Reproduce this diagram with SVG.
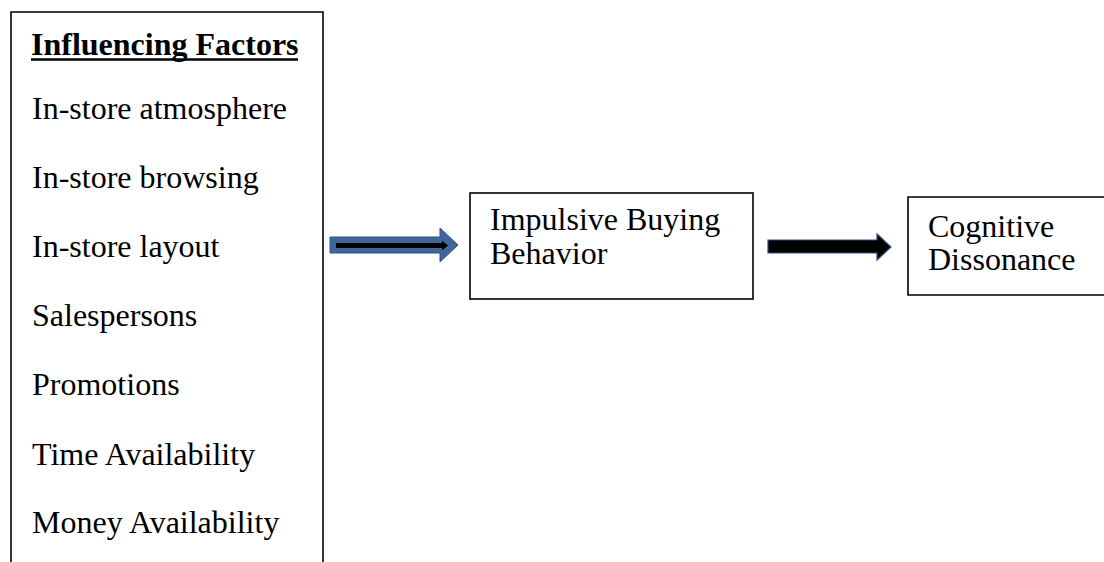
<svg xmlns="http://www.w3.org/2000/svg" width="1104" height="562" viewBox="0 0 1104 562">
<style>
.box{fill:#fff;stroke:#000;stroke-width:1.6}
.t{font-family:"Liberation Serif","Times New Roman",serif;font-size:32px;fill:#000}
.b{font-weight:bold}
</style>
<rect width="1104" height="562" fill="#fff"/>
<g id="factors">
<path class="box" d="M11,566 V12 H323 V566"/>
<text class="t b" x="31" y="55">Influencing Factors</text>
<line x1="31" y1="59.5" x2="298" y2="59.5" stroke="#000" stroke-width="2.4"/>
<text class="t" x="32" y="119">In-store atmosphere</text>
<text class="t" x="32" y="188">In-store browsing</text>
<text class="t" x="32" y="257">In-store layout</text>
<text class="t" x="32" y="326">Salespersons</text>
<text class="t" x="32" y="395">Promotions</text>
<text class="t" x="32" y="465">Time Availability</text>
<text class="t" x="32" y="533">Money Availability</text>
</g>
<g id="impulsive">
<rect class="box" x="470" y="193" width="283" height="106"/>
<text class="t" x="490" y="230">Impulsive Buying</text>
<text class="t" x="490" y="264">Behavior</text>
</g>
<g id="dissonance">
<path class="box" d="M1110,197 H908 V295 H1110"/>
<text class="t" x="928" y="237">Cognitive</text>
<text class="t" x="928" y="270">Dissonance</text>
</g>
<g id="connectors">
<polygon points="330,237 440,237 440,228 458,245 440,262 440,253 330,253" fill="#41679A" stroke="#2E5385" stroke-width="1"/>
<polygon points="336,243 442,243 442,240.5 448,245.5 442,250.5 442,248 336,248" fill="#000"/>
<polygon points="768,240 877,240 877,234 891,247 877,260 877,253 768,253" fill="#000" stroke="#2E4C82" stroke-width="1.2"/>
</g>
</svg>
